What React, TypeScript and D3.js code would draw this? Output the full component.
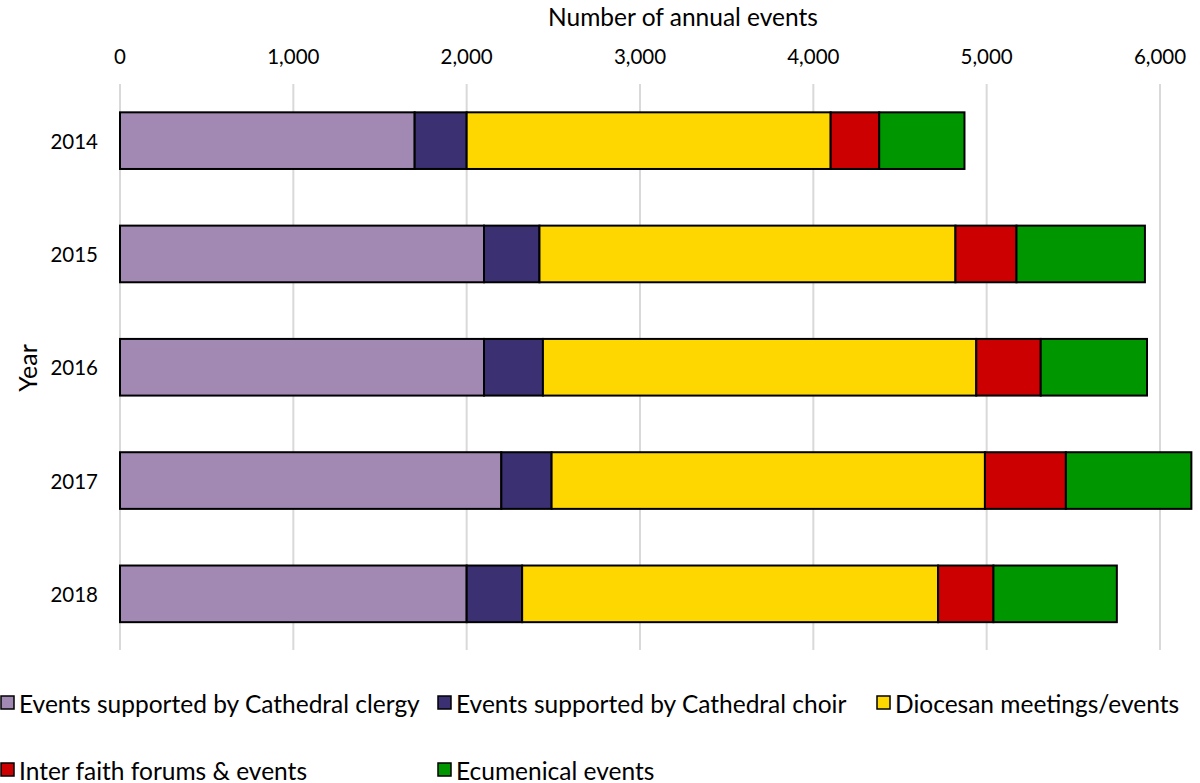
import React from "react";
import * as d3 from "d3";

const years = ["2014", "2015", "2016", "2017", "2018"];
const seriesNames = [
  "Events supported by Cathedral clergy",
  "Events supported by Cathedral choir",
  "Diocesan meetings/events",
  "Inter faith forums & events",
  "Ecumenical events",
];
const seriesColors = ["#A189B4", "#3A3072", "#FFD700", "#CC0000", "#009600"];
const clergy = [1700, 2100, 2100, 2200, 2000];
const choir = [300, 320, 340, 290, 320];
const diocesan = [2100, 2400, 2500, 2500, 2400];
const interfaith = [280, 352, 372, 467, 319];
const ecumenical = [492, 741, 613, 724, 712];
const xTicks = [0, 1000, 2000, 3000, 4000, 5000, 6000];

const W = 1200;
const H = 783;
const FONT = "Lato, 'Open Sans', sans-serif";

export default function App() {
  const x = d3.scaleLinear().domain([0, 6000]).range([120, 1160]);
  const y = d3
    .scaleBand<string>()
    .domain(years)
    .range([84, 650.5])
    .paddingInner(0.5)
    .paddingOuter(0.25);

  const table = years.map((yr, i) => ({
    year: yr,
    s0: clergy[i],
    s1: choir[i],
    s2: diocesan[i],
    s3: interfaith[i],
    s4: ecumenical[i],
  }));
  const keys = ["s0", "s1", "s2", "s3", "s4"];
  const stacked = d3.stack<any>().keys(keys)(table);
  const fmt = d3.format(",");

  const legendItems = [
    { i: 0, x: 1, y: 703 },
    { i: 1, x: 438, y: 703 },
    { i: 2, x: 877, y: 703 },
    { i: 3, x: 1, y: 770 },
    { i: 4, x: 438, y: 770 },
  ];

  return (
    <svg
      width={W}
      height={H}
      style={{ position: "absolute", left: 0, top: 0, background: "#fff" }}
      fontFamily={FONT}
    >
      <rect x={0} y={0} width={W} height={H} fill="#fff" />
      {xTicks.map((t) => (
        <line
          key={"g" + t}
          x1={x(t)}
          x2={x(t)}
          y1={84}
          y2={650}
          stroke="#D9D9D9"
          strokeWidth={2}
        />
      ))}
      {xTicks.map((t) => (
        <text
          key={"t" + t}
          x={x(t)}
          y={64}
          textAnchor="middle"
          fontSize={20.5}
          fill="#000"
        >
          {fmt(t)}
        </text>
      ))}
      <text x={683} y={26} textAnchor="middle" fontSize={24.5} fill="#000">
        Number of annual events
      </text>
      {stacked.map((layer, si) =>
        layer.map((d, i) => (
          <rect
            key={si + "-" + i}
            x={x(d[0])}
            y={y(years[i])}
            width={x(d[1]) - x(d[0])}
            height={y.bandwidth()}
            fill={seriesColors[si]}
            stroke="#000"
            strokeWidth={2}
          />
        ))
      )}
      {years.map((yr) => (
        <text
          key={"y" + yr}
          x={98}
          y={(y(yr) as number) + y.bandwidth() / 2}
          textAnchor="end"
          dominantBaseline="central"
          fontSize={20.5}
          fill="#000"
        >
          {yr}
        </text>
      ))}
      <text
        transform={`translate(27,368) rotate(-90)`}
        textAnchor="middle"
        dominantBaseline="central"
        fontSize={25}
        fill="#000"
      >
        Year
      </text>
      {legendItems.map((it) => (
        <g key={"l" + it.i}>
          <rect
            x={it.x}
            y={it.y - 7}
            width={13}
            height={13}
            fill={seriesColors[it.i]}
            stroke="#000"
            strokeWidth={1.5}
          />
          <text
            x={it.x + 18}
            y={it.y}
            dominantBaseline="central"
            fontSize={24.5}
            fill="#000"
          >
            {seriesNames[it.i]}
          </text>
        </g>
      ))}
    </svg>
  );
}
